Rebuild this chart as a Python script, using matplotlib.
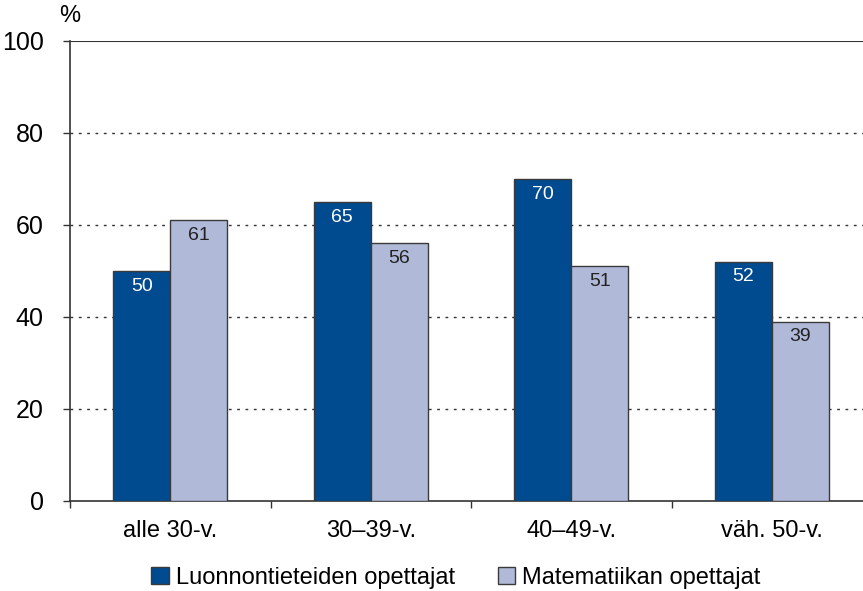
import matplotlib.pyplot as plt
import numpy as np

plt.rcParams['font.family'] = ['Liberation Sans', 'DejaVu Sans']

categories = ['alle 30-v.', '30–39-v.', '40–49-v.', 'väh. 50-v.']
luonnontieteet = [50, 65, 70, 52]
matematiikka = [61, 56, 51, 39]
series_names = ['Luonnontieteiden opettajat', 'Matematiikan opettajat']

dark = '#004a8f'
light = '#b1b9d9'
edge = '#3a3a3a'

fig = plt.figure(figsize=(8.63, 5.91), dpi=100)
ax = fig.add_axes([70 / 863, 90 / 591, 802 / 863, 460 / 591])

x = np.arange(len(categories))
w = 0.285
b1 = ax.bar(x - w / 2, luonnontieteet, w, color=dark, edgecolor=edge, linewidth=1,
            label=series_names[0], zorder=3)
b2 = ax.bar(x + w / 2, matematiikka, w, color=light, edgecolor=edge, linewidth=1,
            label=series_names[1], zorder=3)

for bar, v in zip(b1, luonnontieteet):
    ax.text(bar.get_x() + bar.get_width() / 2, v - 3.3, str(v), ha='center', va='center',
            color='white', fontsize=14, zorder=4)
for bar, v in zip(b2, matematiikka):
    ax.text(bar.get_x() + bar.get_width() / 2, v - 3.3, str(v), ha='center', va='center',
            color='#222222', fontsize=14, zorder=4)

ax.set_xlim(-0.5, 3.5)
ax.set_ylim(0, 100)
ax.set_yticks([0, 20, 40, 60, 80, 100])
ax.tick_params(axis='y', labelsize=18, length=5, width=1, color='#333333', pad=14)
for y in [20, 40, 60, 80]:
    ax.axhline(y, color='#333333', linestyle=(0, (2, 4)), linewidth=1, zorder=1)
ax.axhline(100, color='#333333', linewidth=1.5, zorder=1)

ax.set_xticks(np.arange(-0.5, 3.6, 1))
ax.set_xticklabels([])
ax.set_xticks(x, minor=True)
ax.set_xticklabels(categories, minor=True, fontsize=17)
ax.tick_params(axis='x', which='major', length=5, width=1, color='#333333')
ax.tick_params(axis='x', which='minor', length=0, pad=14)

for s in ['top', 'right']:
    ax.spines[s].set_visible(False)
for s in ['left', 'bottom']:
    ax.spines[s].set_color('#333333')
    ax.spines[s].set_linewidth(1.2)

ax.text(0, 1.03, '%', transform=ax.transAxes, ha='center', va='bottom', fontsize=17)

fig.legend(loc='center', bbox_to_anchor=(456 / 863, 13 / 591), ncol=2, frameon=False,
           fontsize=17, handlelength=0.75, handleheight=0.75, handletextpad=0.3,
           columnspacing=1.8, borderpad=0)

fig.savefig('out.png', dpi=100)
